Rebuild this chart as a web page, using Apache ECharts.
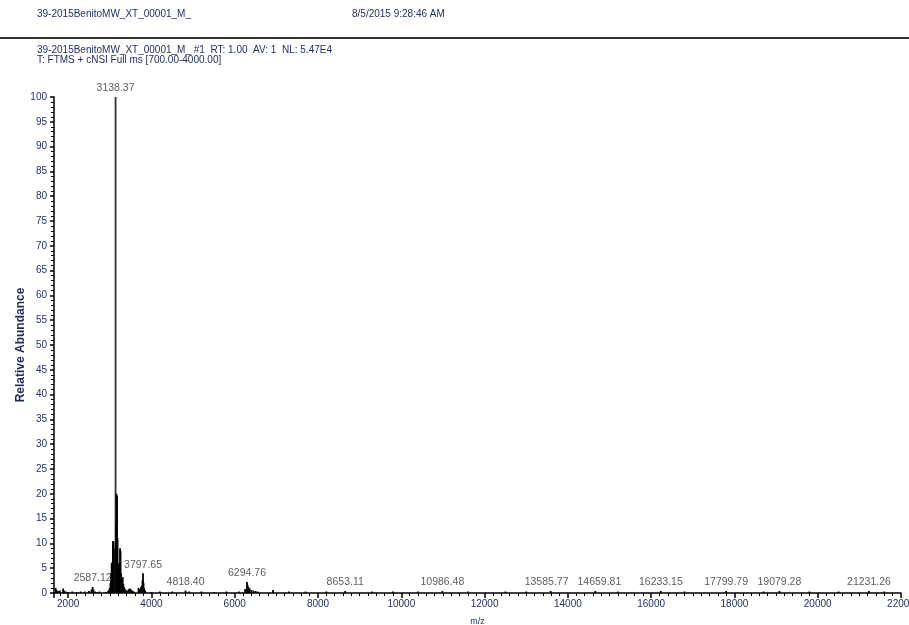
<!DOCTYPE html>
<html>
<head>
<meta charset="utf-8">
<script src="https://cdn.jsdelivr.net/npm/echarts@6/dist/echarts.min.js"></script>
<style>
  html, body { margin: 0; padding: 0; background: #fff; }
  #chart { width: 909px; height: 625px; }
</style>
</head>
<body>
<div id="chart"></div>
<script>
// spectrum sticks (m/z, relative abundance %)
const mzValues = [
  1700, 1720, 1760, 1800, 1880, 1900, 1950, 2000, 2100, 2200, 2300, 2400, 2500, 2560, 2587.12, 2610, 2650, 2700, 2750, 2900,
  2960, 2985, 3000, 3015, 3030, 3045, 3060, 3075, 3090, 3105, 3118, 3128, 3138.37, 3150, 3162, 3174, 3186, 3198, 3210, 3222, 3234, 3246,
  3258, 3270, 3282, 3295, 3310, 3325, 3340, 3360, 3390, 3420, 3450, 3480, 3510, 3540, 3580,
  3690, 3720, 3750, 3770, 3785, 3797.65, 3810, 3825, 3850,
  4000, 4200, 4500, 4818.40, 4900, 5200, 5500, 5800, 6100, 6250, 6294.76, 6310, 6330, 6360, 6400, 6450, 6500, 6550, 6918,
  7300, 7700, 8200, 8653.11, 9300, 9800, 10400, 10986.48, 11600, 12500, 13000, 13585.77, 14659.81, 15200, 16233.15, 16800,
  17799.79, 18700, 19079.28, 19800, 20500, 21231.26, 21600
];
const abundanceValues = [
  1.0, 0.6, 0.4, 0.5, 0.9, 0.5, 0.3, 0.2, 0.3, 0.2, 0.3, 0.3, 0.4, 0.7, 1.2, 0.7, 0.3, 0.2, 0.3, 0.2,
  0.4, 0.7, 1.0, 2.0, 4.0, 6.0, 6.2, 10.5, 10.3, 9.0, 6.0, 8.0, 100, 14, 20, 19.5, 11, 6, 5, 4, 6, 9,
  8.5, 4, 2.5, 3, 3.2, 1.8, 1.2, 0.9, 0.6, 0.4, 0.8, 0.9, 0.7, 0.5, 0.3,
  1.0, 0.8, 1.2, 1.5, 2.5, 4.0, 2.0, 1.0, 0.5,
  0.2, 0.3, 0.3, 0.5, 0.3, 0.3, 0.2, 0.3, 0.3, 0.8, 2.2, 1.6, 1.2, 0.9, 0.6, 0.5, 0.4, 0.3, 0.6,
  0.3, 0.3, 0.3, 0.4, 0.3, 0.3, 0.3, 0.4, 0.3, 0.3, 0.3, 0.4, 0.4, 0.3, 0.4, 0.3,
  0.4, 0.3, 0.4, 0.3, 0.3, 0.4, 0.3
];

// labelled peaks
const labelMz = [3138.37, 2587.12, 3797.65, 4818.40, 6294.76, 8653.11, 10986.48, 13585.77, 14659.81, 16233.15, 17799.79, 19079.28, 21231.26];
const labelAbundance = [100, 1.2, 4.0, 0.5, 2.2, 0.4, 0.4, 0.4, 0.4, 0.4, 0.4, 0.4, 0.4];

const headerTitle = '39-2015BenitoMW_XT_00001_M_';
const headerDate = '8/5/2015 9:28:46 AM';
const scanInfo = '39-2015BenitoMW_XT_00001_M_ #1  RT: 1.00  AV: 1  NL: 5.47E4';
const filterInfo = 'T: FTMS + cNSI Full ms [700.00-4000.00]';

const font = '"Liberation Sans", Arial, sans-serif';
const navy = '#1e2a5e';
const labelFontSize = 10.5;

const chart = echarts.init(document.getElementById('chart'));

const hdr = (text, left, top) => ({
  text, left, top, padding: 0,
  textStyle: { fontSize: 10, fontWeight: 'normal', color: navy, fontFamily: font, lineHeight: 10 }
});

const option = {
  animation: false,
  backgroundColor: '#fff',
  title: [
    hdr(headerTitle, 37, 9),
    hdr(headerDate, 352, 9),
    hdr(scanInfo, 37, 45),
    hdr(filterInfo, 37, 55)
  ],
  graphic: [{
    type: 'line',
    shape: { x1: 0, y1: 38, x2: 909, y2: 38 },
    style: { stroke: '#333', lineWidth: 2 }
  }],
  grid: { left: 54, right: 8, top: 97, bottom: 32, containLabel: false, outerBoundsMode: 'none' },
  xAxis: {
    type: 'value',
    min: 1660,
    max: 22000,
    splitNumber: 10,
    name: 'm/z',
    nameLocation: 'middle',
    nameGap: 24,
    nameMoveOverlap: false,
    nameTextStyle: { fontSize: 9, color: navy, fontFamily: font },
    axisLine: { lineStyle: { color: '#000', width: 1.5 } },
    axisTick: { length: 5, lineStyle: { color: '#000', width: 1.5 } },
    minorTick: { show: true, splitNumber: 10, length: 3, lineStyle: { color: '#000', width: 1 } },
    splitLine: { show: false },
    axisLabel: {
      showMinLabel: false, margin: 6, fontSize: 10, color: navy, fontFamily: font,
      formatter: v => String(v)
    }
  },
  yAxis: {
    type: 'value',
    min: 0,
    max: 100,
    interval: 5,
    name: 'Relative Abundance',
    nameLocation: 'middle',
    nameGap: 27,
    nameMoveOverlap: false,
    nameTextStyle: { fontSize: 12, fontWeight: 'bold', color: navy, fontFamily: font },
    axisLine: { show: true, lineStyle: { color: '#000', width: 1.5 } },
    axisTick: { show: true, length: 4, lineStyle: { color: '#000', width: 1.5 } },
    minorTick: { show: true, splitNumber: 5, length: 3, lineStyle: { color: '#000', width: 1 } },
    splitLine: { show: false },
    axisLabel: { margin: 7, fontSize: 10, color: navy, fontFamily: font }
  },
  series: [
    {
      type: 'custom',
      clip: true,
      data: mzValues.map((mz, i) => [mz, abundanceValues[i]]),
      encode: { x: 0, y: 1 },
      renderItem: (params, api) => {
        const top = api.coord([api.value(0), api.value(1)]);
        const base = api.coord([api.value(0), 0]);
        return {
          type: 'line',
          shape: { x1: top[0], y1: top[1], x2: base[0], y2: base[1] },
          style: { stroke: api.value(1) > 50 ? '#333' : '#000', lineWidth: 1.8 }
        };
      }
    },
    {
      type: 'scatter',
      symbolSize: 0,
      data: labelMz.map((mz, i) => [mz, labelAbundance[i]]),
      label: {
        show: true,
        position: 'top',
        distance: 3,
        fontSize: labelFontSize,
        color: '#333',
        fontFamily: font,
        formatter: p => p.value[0].toFixed(2)
      }
    }
  ]
};

chart.setOption(option);

// push apart peak labels that sit too close on the same row
const ctx = document.createElement('canvas').getContext('2d');
ctx.font = labelFontSize + 'px "Liberation Sans"';
const boxes = labelMz.map((mz, i) => {
  const [x, y] = chart.convertToPixel({ gridIndex: 0 }, [mz, labelAbundance[i]]);
  return { i, x, y, w: ctx.measureText(mz.toFixed(2)).width, dx: 0 };
}).sort((a, b) => a.x - b.x);
const minGap = 9;
for (let k = 1; k < boxes.length; k++) {
  const a = boxes[k - 1], b = boxes[k];
  if (Math.abs(a.y - b.y) > 10) continue;
  const overlap = (a.x + a.dx + a.w / 2 + minGap) - (b.x + b.dx - b.w / 2);
  if (overlap > 0) { a.dx -= overlap / 2; b.dx += overlap / 2; }
}
const offsets = [];
boxes.forEach(b => { offsets[b.i] = b.dx; });

chart.setOption({
  series: [{}, {
    data: labelMz.map((mz, i) => ({
      value: [mz, labelAbundance[i]],
      label: { offset: [offsets[i], 0] }
    }))
  }]
});
</script>
</body>
</html>
